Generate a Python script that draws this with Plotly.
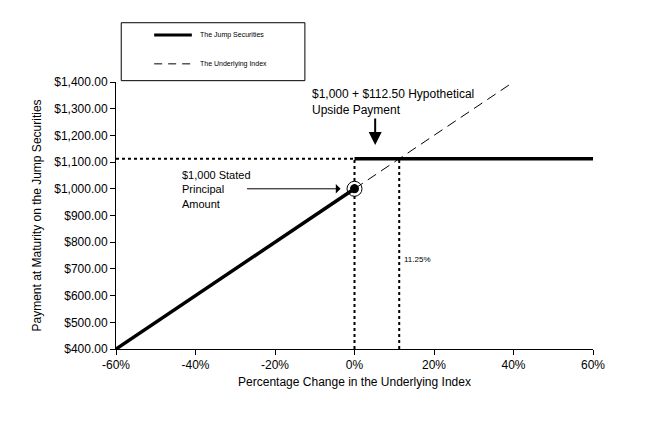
import plotly.graph_objects as go

# ---- data ----
down_pct = [-0.60, 0.0]
down_pay = [400.0, 1000.0]
up_pct = [0.0, 0.60]
up_pay = [1112.50, 1112.50]
index_pct = [0.0, 0.40]
index_pay = [1000.0, 1400.0]
cap_pct = 0.1125
cap_pay = 1112.50
principal = 1000.0
x_ticks = [-0.6, -0.4, -0.2, 0.0, 0.2, 0.4, 0.6]
x_tick_text = ["-60%", "-40%", "-20%", "0%", "20%", "40%", "60%"]
y_ticks = [400, 500, 600, 700, 800, 900, 1000, 1100, 1200, 1300, 1400]

FONT = "Liberation Sans, Arial, sans-serif"
fig = go.Figure()

# dotted guide lines
fig.add_trace(go.Scatter(x=[x_ticks[0], 0.0], y=[cap_pay, cap_pay], mode="lines",
                         line=dict(color="black", width=2, dash="dot"), showlegend=False))
fig.add_trace(go.Scatter(x=[0.0, 0.0], y=[y_ticks[0], cap_pay], mode="lines",
                         line=dict(color="black", width=2, dash="dot"), showlegend=False))
fig.add_trace(go.Scatter(x=[cap_pct, cap_pct], y=[y_ticks[0], cap_pay], mode="lines",
                         line=dict(color="black", width=2, dash="dot"), showlegend=False))

# underlying index (dashed)
fig.add_trace(go.Scatter(x=index_pct, y=index_pay, mode="lines",
                         line=dict(color="black", width=1, dash="10px,6px"), showlegend=False))
# jump securities
fig.add_trace(go.Scatter(x=down_pct, y=down_pay, mode="lines",
                         line=dict(color="black", width=3.5), showlegend=False))
fig.add_trace(go.Scatter(x=up_pct, y=up_pay, mode="lines",
                         line=dict(color="black", width=3.5), showlegend=False))
# principal marker
fig.add_trace(go.Scatter(x=[0.0], y=[principal], mode="markers", cliponaxis=False,
                         marker=dict(size=15, color="rgba(0,0,0,0)", line=dict(color="black", width=1)),
                         showlegend=False))
fig.add_trace(go.Scatter(x=[0.0], y=[principal], mode="markers", cliponaxis=False,
                         marker=dict(size=9, color="black"), showlegend=False))

txt_font = dict(family=FONT, size=12, color="black")
annotations = [
    dict(x=-0.035, y=principal, ax=-95, ay=0, axref="pixel", ayref="pixel", text="",
         showarrow=True, arrowhead=1, arrowsize=1.6, arrowwidth=1, arrowcolor="black"),
    dict(x=-0.44, y=1080, xanchor="left", yanchor="top", showarrow=False, align="left",
         text="$1,000 Stated<br>Principal<br>Amount",
         font=dict(family=FONT, size=11, color="black")),
    dict(x=-0.112, y=1262, xanchor="left", yanchor="bottom", showarrow=False, align="left",
         text="$1,000 + $112.50 Hypothetical<br>Upside Payment", font=txt_font),
    dict(x=0.052, y=1164, ax=0, ay=-28, axref="pixel", ayref="pixel", text="",
         showarrow=True, arrowhead=2, arrowsize=1.3, arrowwidth=2, arrowcolor="black"),
    dict(x=cap_pct + 0.008, y=735, xanchor="left", yanchor="middle", showarrow=False,
         text="11.25%", font=dict(family=FONT, size=8, color="black")),
    # legend texts
    dict(x=0.172, y=1.176, xref="paper", yref="paper", xanchor="left", yanchor="middle",
         showarrow=False, text="The Jump Securities", font=dict(family=FONT, size=7, color="black")),
    dict(x=0.172, y=1.068, xref="paper", yref="paper", xanchor="left", yanchor="middle",
         showarrow=False, text="The Underlying Index", font=dict(family=FONT, size=7, color="black")),
]

shapes = [
    dict(type="rect", xref="paper", yref="paper", x0=0.011, x1=0.396, y0=1.005, y1=1.222,
         line=dict(color="black", width=1), fillcolor="rgba(0,0,0,0)"),
    dict(type="line", xref="paper", yref="paper", x0=0.08, x1=0.159, y0=1.176, y1=1.176,
         line=dict(color="black", width=3)),
    dict(type="line", xref="paper", yref="paper", x0=0.08, x1=0.159, y0=1.068, y1=1.068,
         line=dict(color="black", width=1, dash="8px,6px")),
]

fig.update_layout(
    width=663, height=421,
    margin=dict(l=116, r=70, t=82, b=72),
    paper_bgcolor="white", plot_bgcolor="white",
    font=dict(family=FONT, size=12, color="black"),
    annotations=annotations, shapes=shapes,
    xaxis=dict(range=[-0.6, 0.6], tickvals=x_ticks, ticktext=x_tick_text,
               showgrid=False, zeroline=False, showline=True, linecolor="black", linewidth=1,
               ticks="outside", ticklen=5, tickcolor="black",
               title=dict(text="Percentage Change in the Underlying Index", standoff=6,
                          font=dict(size=12))),
    yaxis=dict(range=[400, 1400], tickvals=y_ticks, tickformat="$,.2f",
               tickfont=dict(size=12),
               showgrid=False, zeroline=False, showline=True, linecolor="black", linewidth=1,
               ticks="outside", ticklen=5, tickcolor="black",
               title=dict(text="Payment at Maturity on the Jump Securities", standoff=10,
                          font=dict(size=12))),
)

fig.write_html("out.html")
